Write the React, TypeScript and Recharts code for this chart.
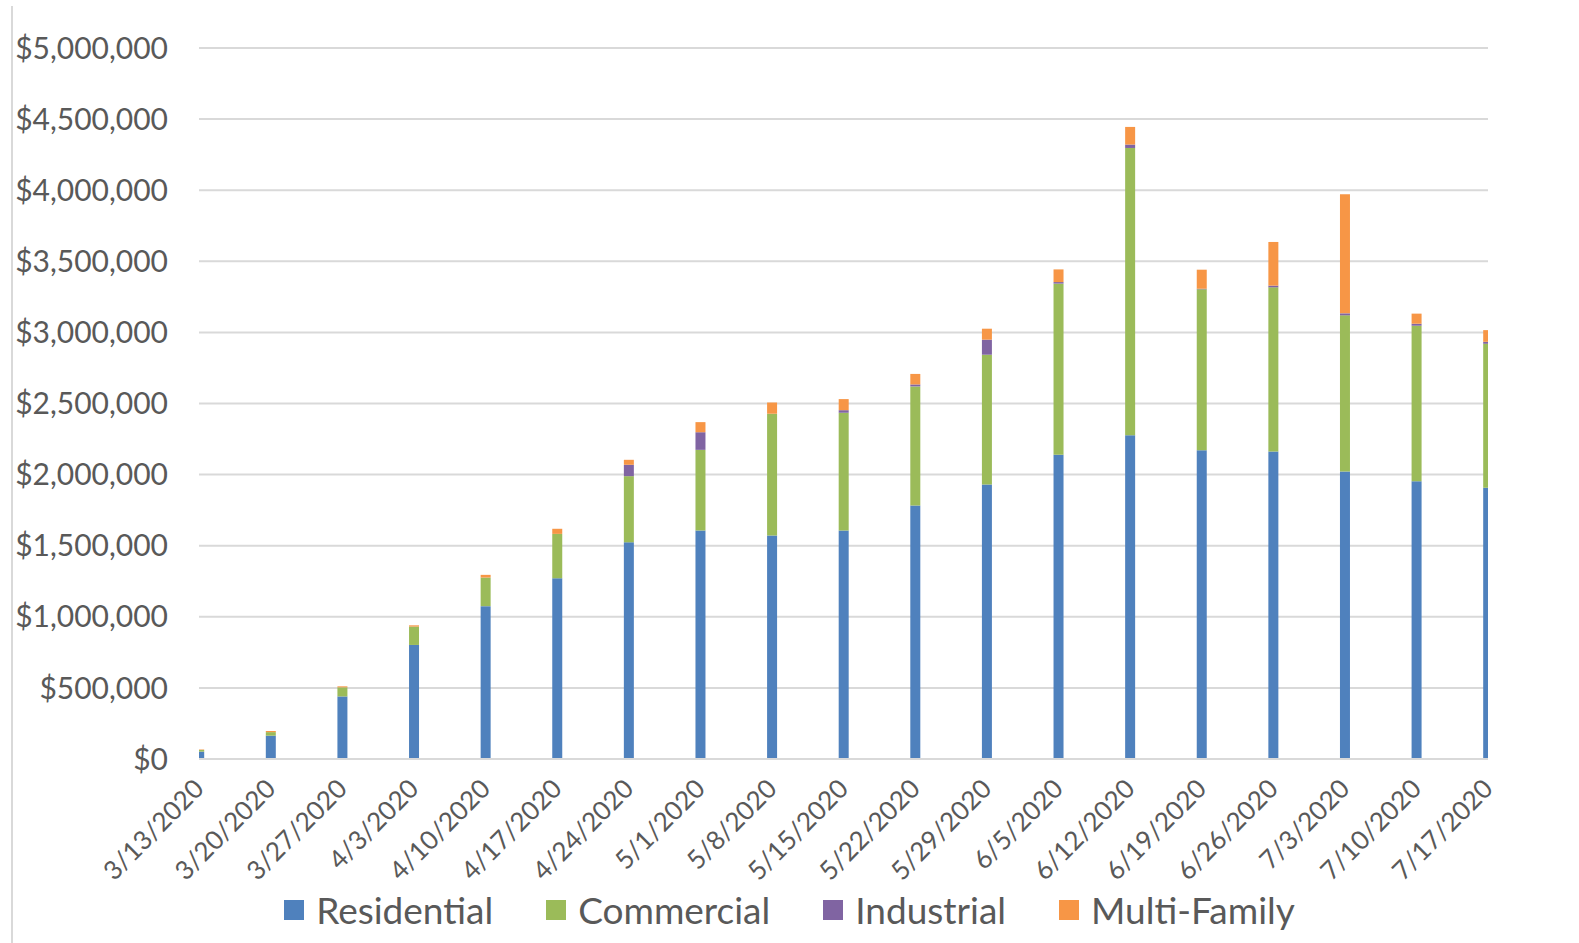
import React from "react";
import { BarChart, Bar, XAxis, YAxis, CartesianGrid, Legend } from "recharts";

const weeks = ["3/13/2020", "3/20/2020", "3/27/2020", "4/3/2020", "4/10/2020", "4/17/2020", "4/24/2020", "5/1/2020", "5/8/2020", "5/15/2020", "5/22/2020", "5/29/2020", "6/5/2020", "6/12/2020", "6/19/2020", "6/26/2020", "7/3/2020", "7/10/2020", "7/17/2020"];
const residential = [52000, 164000, 440000, 802000, 1075000, 1271000, 1524000, 1607000, 1571000, 1607000, 1783000, 1930000, 2139000, 2277000, 2172000, 2163000, 2022000, 1954000, 1907000];
const commercial = [12000, 25000, 64000, 129000, 201000, 312000, 465000, 567000, 857000, 828000, 837000, 913000, 1204000, 2020000, 1131000, 1154000, 1098000, 1093000, 1013000];
const industrial = [0, 0, 0, 0, 0, 0, 80000, 124000, 0, 18000, 14000, 106000, 11000, 24000, 4000, 12000, 14000, 14000, 14000];
const multiFamily = [3000, 8000, 7000, 9000, 19000, 36000, 35000, 71000, 79000, 78000, 74000, 77000, 89000, 124000, 134000, 307000, 837000, 71000, 82000];
const yTicks = [0, 500000, 1000000, 1500000, 2000000, 2500000, 3000000, 3500000, 4000000, 4500000, 5000000];

const seriesNames = ["Residential", "Commercial", "Industrial", "Multi-Family"];
const seriesColors = ["#4f81bd", "#9bbb59", "#8064a2", "#f79646"];

const data = weeks.map((w, i) => ({
  idx: i,
  week: w,
  Residential: residential[i],
  Commercial: commercial[i],
  Industrial: industrial[i],
  "Multi-Family": multiFamily[i],
}));

const FONT = "Lato, 'Open Sans', sans-serif";
const TEXT = "#595959";

const fmtMoney = (v: number) => "$" + v.toLocaleString("en-US");

const CustomLegend = () => (
  <div
    style={{
      display: "flex",
      justifyContent: "center",
      alignItems: "center",
      fontFamily: FONT,
      fontSize: 37,
      color: TEXT,
      height: 44,
      lineHeight: "44px",
    }}
  >
    {seriesNames.map((n, i) => (
      <div key={n} style={{ display: "flex", alignItems: "center", marginRight: i < 3 ? 53 : 0 }}>
        <div style={{ width: 20, height: 20, background: seriesColors[i], marginRight: 12 }} />
        <span>{n}</span>
      </div>
    ))}
  </div>
);

const XTick = (props: any) => {
  const { x, y, payload } = props;
  return (
    <g transform={`translate(${x},${y + 25})`}>
      <text
        transform="rotate(-45)"
        textAnchor="end"
        dy="0.35em"
        fill={TEXT}
        fontSize={26}
        fontFamily={FONT}
      >
        {weeks[payload.value]}
      </text>
    </g>
  );
};

export default function App() {
  return (
    <div style={{ position: "absolute", left: 0, top: 0, width: 1579, height: 943, background: "#fff", overflow: "hidden" }}>
      <div style={{ position: "absolute", left: 11, top: 6, width: 2, height: 937, background: "#d9d9d9" }} />
      <BarChart
        width={1579}
        height={943}
        data={data}
        margin={{ top: 48, right: 91, left: 19, bottom: 11 }}
      >
        <CartesianGrid horizontal vertical={false} stroke="#d9d9d9" strokeWidth={2} />
        <XAxis
          type="number"
          dataKey="idx"
          domain={[0, 18]}
          ticks={weeks.map((_, i) => i)}
          interval={0}
          allowDataOverflow
          tickLine={false}
          axisLine={{ stroke: "#d9d9d9", strokeWidth: 2 }}
          tickSize={0}
          tickMargin={0}
          height={129}
          tick={<XTick />}
        />
        <YAxis
          domain={[0, 5000000]}
          ticks={yTicks}
          interval={0}
          width={180}
          axisLine={false}
          tickLine={false}
          tickSize={0}
          tickMargin={31}
          tickFormatter={fmtMoney}
          tick={{ fill: TEXT, fontSize: 30, fontFamily: FONT }}
        />
        <Legend
          verticalAlign="bottom"
          content={() => <CustomLegend />}
          wrapperStyle={{ left: 0, width: 1579, bottom: 11 }}
        />
        {seriesNames.map((n, i) => (
          <Bar key={n} dataKey={n} stackId="a" fill={seriesColors[i]} barSize={10} isAnimationActive={false} />
        ))}
      </BarChart>
    </div>
  );
}
